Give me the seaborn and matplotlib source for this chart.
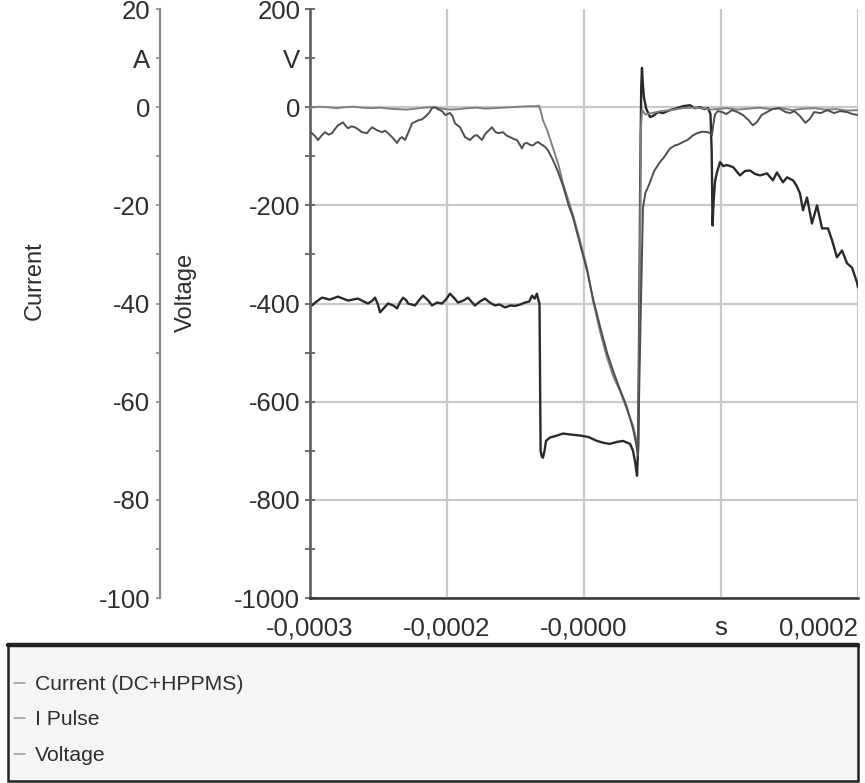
import numpy as np
import pandas as pd
import matplotlib
matplotlib.use("Agg")
import matplotlib.pyplot as plt
import seaborn as sns
from matplotlib import font_manager
from matplotlib.patches import Rectangle
from matplotlib.lines import Line2D
from matplotlib.ticker import FixedLocator

# ---------------- data (time in microseconds) ----------------
volt_t_us = [-300, -298.2, -294, -289, -282, -274.5, -270, -265.3, -261, -256.2, -251, -247.1, -243,
             -240.7, -238, -236.1, -232, -228.8, -224, -220.6, -218, -215.1, -212, -210.6, -204.2, -200,
             -196.9, -192, -188.7, -184, -179.6, -176, -172.3, -168, -165, -160, -155.8, -152, -149.5,
             -145, -140.3, -136, -131.2, -127, -122.1, -117, -113, -108, -103.8, -100, -97.4, -95, -93,
             -91.5, -90.6, -90.1, -89.6, -88.5, -87.4, -86, -84.7, -81, -76, -69.2, -62, -53.7, -46,
             -38.1, -32, -26.3, -20, -14.4, -8, -5.3, -3.2, -1.6, -0.6, 0.5, 1.3, 2.2, 2.9, 3.6, 4.7,
             6.6, 10.2, 13, 17.5, 22.1, 28.5, 34.9, 40.3, 46.7, 51, 55.8, 60, 63.1, 65.4, 66.5, 67.3,
             68.3, 69.6, 71.3, 74.1, 77, 80.5, 86, 92.3, 97, 101.5, 106, 110.6, 117, 122.4, 126, 131.6,
             135.2, 140.7, 144, 147.1, 149.8, 153.5, 158, 162.6, 167.2, 172.6, 176.3, 180.8, 185.4, 190,
             194.5, 199.1, 200]
volt_v = [-402, -404, -396, -388, -392, -386, -390, -394, -392, -390, -396, -400, -394,
          -388, -402, -418, -408, -400, -404, -410, -398, -388, -394, -400, -404, -392,
          -384, -394, -404, -398, -400, -392, -380, -390, -398, -394, -388, -398, -404,
          -396, -390, -398, -404, -402, -408, -404, -405, -402, -398, -396, -384, -390, -380,
          -394, -400, -560, -700, -712, -714, -700, -680, -673, -670, -665, -667, -669, -672,
          -680, -684, -686, -682, -680, -686, -700, -725, -751, -690, -400, -150, 40, 80, 50, 20,
          -2, -20, -18, -10, -12, -6, -2, 2, 4, -2, 0, -4, -2, -14, -90, -241,
          -190, -150, -133, -112, -120, -118, -122, -139, -130, -129, -136, -139, -135, -149, -133, -153,
          -143, -149, -160, -176, -210, -184, -237, -200, -247, -247, -271, -306, -292, -318,
          -327, -357, -367]

cur_t_us = [-300, -298.2, -295, -292.7, -289.5, -286.3, -283, -279.9, -277, -274.5, -269.9, -267.5,
            -265.3, -262, -258.9, -255.5, -252.6, -248, -245.5, -243.4, -238.9, -234.3, -231.5, -228.8,
            -224.3, -220.6, -218, -216.1, -213.3, -210, -206.9, -201.5, -198, -195.1, -191.5, -188.7,
            -185.9, -183.5, -181.4, -179, -176.8, -172.3, -170, -167.7, -163.1, -158.6, -154, -150.5,
            -147.6, -143.1, -140.5, -138.5, -134, -131, -128.5, -123.9, -120.5, -117.5, -114, -111.1,
            -106.6, -104.3, -102, -99, -96.5, -94, -92, -89.5, -87.4, -85, -82.8, -78.3, -74, -69.2,
            -64, -60, -53.7, -47, -41.8, -35, -29, -23, -17.2, -11, -5.3, -2.5, -0.8, 1.5, 3.8, 6, 8,
            10.2, 14, 19.3, 23, 28.5, 33, 36, 40.3, 45, 49, 53.1, 58, 63.1, 65.5, 66.8, 68, 69.5, 72,
            76, 80, 85, 90, 95, 100, 104, 108, 112, 117, 122, 128, 134, 138, 142, 147, 152, 156, 160,
            166, 172, 178, 184, 190, 195, 200]
cur_a = [-5.0, -5.3, -6.0, -6.7, -5.8, -5.1, -5.6, -5.3, -4.4, -3.7, -3.1, -3.8,
         -4.3, -3.9, -4.1, -4.6, -5.1, -5.3, -4.6, -4.1, -4.7, -5.1, -4.8, -5.3,
         -6.3, -7.3, -6.4, -6.1, -6.7, -5.0, -3.3, -2.7, -2.5, -2.0, -1.2, -0.2,
         0.0, -0.4, -0.6, -0.9, -1.6, -1.2, -1.8, -3.3, -4.1, -6.1, -6.7, -5.9,
         -5.7, -6.7, -5.6, -5.1, -4.1, -5.0, -5.3, -5.1, -5.8, -6.1, -6.5, -6.7,
         -8.4, -7.4, -7.3, -7.7, -7.8, -7.3, -7.1, -7.5, -7.8, -8.2, -8.8, -10.8, -13.0, -16.0,
         -20.0, -22.5, -27.8, -33.5, -39.0, -45.0, -50.0, -54.0, -57.5, -61.0, -65.5, -68.5, -71.0, -45, -20.5, -17.5, -16.5,
         -15.3, -13.0, -11.2, -10.2, -8.4, -7.8, -7.6, -7.1, -6.6, -5.8, -5.3, -5.0, -5.1, -5.4, -5.7, -3.5, -1.5, -0.8,
         -1.0, -1.4, -0.6, -1.0, -1.6, -2.6, -3.7, -3.0, -1.6, -1.0, -0.4, -0.2, -1.0, -1.2, -0.8, -1.8, -3.2, -2.4, -1.0,
         -1.2, -0.6, -1.2, -0.8, -1.0, -1.4, -1.6]

ipulse_t_us = [-300, -292, -284, -276, -268, -260, -252, -244, -236, -228, -220, -212, -204, -196,
               -188, -180, -172, -164, -156, -148, -140, -132, -124, -116, -108, -100, -94, -91, -89.5,
               -87.4, -83.8, -78, -73, -69.2, -60, -53.7, -47, -41.8, -35, -29, -23, -17.2, -11, -5.3,
               -2, -0.5, 0.8, 1.8, 3, 6, 12, 20, 30, 40, 50, 60, 66, 70, 80, 90, 100, 110, 120, 130,
               140, 150, 160, 170, 180, 190, 200]
ipulse_a = [-0.1, 0.1, 0.0, -0.2, 0.0, 0.1, -0.1, -0.2, -0.1, -0.3, -0.4, -0.5, -0.3, -0.1,
            0.0, -0.3, -0.5, -0.4, -0.2, -0.1, -0.3, -0.2, -0.1, 0.0, 0.1, 0.2, 0.2, 0.3, -0.8,
            -2.7, -4.6, -8.5, -12.0, -15.5, -22, -27.1, -33, -39.4, -46, -51, -55, -57.8, -61.5, -64.9,
            -68, -70, -40, -5, -0.5, -1.5, -1.2, -0.8, -0.6, -0.2, -0.1, -0.3, -0.5, -0.4, -0.2, -0.5, -0.3, -0.1, -0.4, -0.2,
            -0.6, -0.3, -0.2, -0.5, -0.4, -0.7, -0.6]

series_names = ["Current (DC+HPPMS)", "I Pulse", "Voltage"]

x_tick_us = [-300, -175, -50, 75, 200]
x_tick_labels = ["-0,0003", "-0,0002", "-0,0000", "s", "0,0002"]

v_major = [200, 0, -200, -400, -600, -800, -1000]
v_major_labels = ["200", "0", "-200", "-400", "-600", "-800", "-1000"]
v_minor = [100, -100, -300, -500, -700, -900]
v_minor_labels = ["V", "", "", "", "", ""]

i_major = [20, 0, -20, -40, -60, -80, -100]
i_major_labels = ["20", "0", "-20", "-40", "-60", "-80", "-100"]
i_minor = [10, -10, -30, -50, -70, -90]
i_minor_labels = ["A", "", "", "", "", ""]

# ---------------- style ----------------
sns.set_style("white")
installed = {f.name for f in font_manager.fontManager.ttflist}
if "Liberation Sans Narrow" in installed:
    fam, fs_tick, fs_lab, fs_leg = "Liberation Sans Narrow", 20, 19, 18.4
else:
    fam, fs_tick, fs_lab, fs_leg = "Liberation Sans", 18.5, 17, 15.2
plt.rcParams["font.family"] = [fam, "DejaVu Sans"]
TXT = "#2e2e2e"

W, H = 865, 783
fig = plt.figure(figsize=(W / 100, H / 100), dpi=100)
ax = fig.add_axes([310 / W, 1 - 598 / H, 548 / W, 589 / H])
ax2 = ax.twinx()

df_v = pd.DataFrame({"t": np.array(volt_t_us) * 1e-6, "val": volt_v})
df_c = pd.DataFrame({"t": np.array(cur_t_us) * 1e-6, "val": cur_a})
df_p = pd.DataFrame({"t": np.array(ipulse_t_us) * 1e-6, "val": ipulse_a})

sns.lineplot(data=df_v, x="t", y="val", ax=ax, color="#2a2a2a", lw=1.7,
             sort=False, estimator=None, legend=False)
sns.lineplot(data=df_p, x="t", y="val", ax=ax2, color="#808080", lw=1.4,
             sort=False, estimator=None, legend=False)
sns.lineplot(data=df_c, x="t", y="val", ax=ax2, color="#4e4e4e", lw=1.4,
             sort=False, estimator=None, legend=False)

# ---------------- axes ----------------
ax.set_xlim(-300e-6, 200e-6)
ax.set_ylim(-1000, 200)
ax2.set_ylim(-100, 20)

ax.set_xticks(np.array(x_tick_us) * 1e-6)
ax.set_xticklabels(x_tick_labels)
mids = [(a + b) / 2 * 1e-6 for a, b in zip(x_tick_us[:-1], x_tick_us[1:])]
ax.xaxis.set_minor_locator(FixedLocator(mids))
xl = ax.get_xticklabels()
xl[-1].set_ha("right")

ax.set_yticks(v_major)
ax.set_yticklabels(v_major_labels)
ax.set_yticks(v_minor, minor=True)
ax.set_yticklabels(v_minor_labels, minor=True)

ax2.set_yticks(i_major)
ax2.set_yticklabels(i_major_labels)
ax2.set_yticks(i_minor, minor=True)
ax2.set_yticklabels(i_minor_labels, minor=True)

ax.set_xlabel("")
ax.set_ylabel("")
ax2.set_ylabel("")

ax.grid(True, which="major", color="#c9c9c9", lw=1.6)
ax.set_axisbelow(True)
for tk in ax.yaxis.get_major_ticks():
    if abs(tk.get_loc() - 200) < 1e-6:
        tk.gridline.set_visible(False)

for s in ["top", "right"]:
    ax.spines[s].set_visible(False)
ax.spines["left"].set_color("#666666")
ax.spines["left"].set_linewidth(2.0)
ax.spines["bottom"].set_color("#333333")
ax.spines["bottom"].set_linewidth(1.8)

ax2.spines["right"].set_visible(False)
ax2.spines["top"].set_visible(False)
ax2.spines["bottom"].set_visible(False)
ax2.spines["left"].set_visible(True)
ax2.spines["left"].set_position(("axes", -150 / 548))
ax2.spines["left"].set_color("#8a8a8a")
ax2.spines["left"].set_linewidth(1.6)
ax2.yaxis.set_ticks_position("left")
ax2.yaxis.set_label_position("left")

ax.tick_params(axis="y", which="both", direction="inout", length=7, width=1.2,
               color="#555555", labelcolor=TXT, labelsize=fs_tick, pad=3.5)
ax.tick_params(axis="x", which="both", direction="out", length=4, width=1.2,
               color="#555555", labelcolor=TXT, labelsize=fs_tick, pad=9)
ax2.tick_params(axis="y", which="both", direction="out", length=3, width=1.2,
                color="#8a8a8a", labelcolor=TXT, labelsize=fs_tick, pad=4)

fig.text(35 / W, 1 - 281 / H, "Current", rotation=90, ha="center", va="center",
         fontsize=fs_lab, color=TXT)
fig.text(186 / W, 1 - 292 / H, "Voltage", rotation=90, ha="center", va="center",
         fontsize=fs_lab, color=TXT)

# ---------------- legend panel ----------------
fig.patches.append(Rectangle((8 / W, 1 - 781 / H), 850 / W, (781 - 645) / H,
                             transform=fig.transFigure, facecolor="#f5f5f5",
                             edgecolor="#222222", lw=1.8, zorder=0))
fig.lines.append(Line2D([8 / W, 858 / W], [1 - 645 / H, 1 - 645 / H],
                        transform=fig.transFigure, color="#222222", lw=3.2))

handles = [ax2.lines[1], ax2.lines[0], ax.lines[0]]
leg = fig.legend(handles, series_names, loc="upper left",
                 bbox_to_anchor=(14 / W, 1 - 675 / H), frameon=False,
                 handlelength=0.5, handletextpad=0.5, labelspacing=0.78,
                 borderaxespad=0, borderpad=0, fontsize=fs_leg)
for t in leg.get_texts():
    t.set_color(TXT)
for h in leg.legend_handles:
    h.set_color("#a0a0a0")
    h.set_linewidth(1.2)

fig.savefig("out.png", dpi=100)
